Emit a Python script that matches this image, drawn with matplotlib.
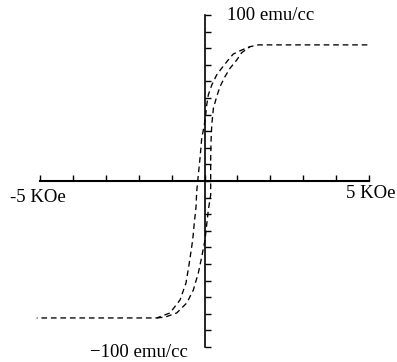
import matplotlib
matplotlib.use("Agg")
import matplotlib.pyplot as plt
import numpy as np

# Descending branch (from +saturation to -saturation), field in KOe, magnetization in emu/cc
desc_H = [4.95, 1.64, 1.38, 1.13, 0.875, 0.72, 0.52, 0.37, 0.22, 0.115, 0.067, 0.036, -0.006,
          -0.085, -0.137, -0.188, -0.237, -0.258, -0.31, -0.359, -0.462, -0.562, -0.745,
          -1.049, -1.45, -5.1]
desc_M = [82.0, 82.0, 80.9, 78.9, 76.5, 72.9, 67.9, 63.9, 57.8, 51.8, 45.8, 39.8, 33.7,
          25.7, 13.7, 3.6, -6.4, -15.7, -25.3, -35.5, -49.4, -61.4, -71.7,
          -79.5, -82.5, -82.5]

# Ascending branch (from -saturation back to +saturation)
asc_H = [-1.45, -1.2, -0.845, -0.54, -0.34, -0.188, -0.085, 0.015, 0.116, 0.188, 0.188,
         0.188, 0.198, 0.22, 0.27, 0.37, 0.47, 0.62, 0.775, 0.98, 1.13, 1.38]
asc_M = [-82.5, -82.0, -79.5, -73.5, -65.7, -55.4, -45.8, -35.5, -17.5, -8.4, 3.6,
         13.7, 23.7, 33.7, 43.8, 50.8, 56.8, 62.8, 67.9, 72.9, 77.3, 80.9]

x_ticks = list(range(-5, 6))
y_ticks = list(range(-100, 101, 10))

x_labels = ["-5 KOe", "5 KOe"]
y_labels = ["100 emu/cc", "\u2212100 emu/cc"]

fig = plt.figure(figsize=(3.97, 3.62), dpi=100)
ax = fig.add_axes([0, 0, 1, 1])
ax.set_xlim(-6.216, 5.851)
ax.set_ylim(-109.04, 109.04)
ax.patch.set_visible(False)

for s in ("top", "right"):
    ax.spines[s].set_visible(False)
ax.spines["left"].set_position(("data", 0))
ax.spines["bottom"].set_position(("data", 0))
ax.spines["left"].set_bounds(-100, 100)
ax.spines["bottom"].set_bounds(-5, 5)
ax.spines["left"].set_linewidth(1.2)
ax.spines["bottom"].set_linewidth(1.5)
ax.set_xticks(x_ticks)
ax.set_yticks(y_ticks)
ax.tick_params(axis="y", direction="in", length=4.5, width=1.0, labelleft=False)
ax.tick_params(axis="x", direction="in", length=4.0, width=1.0, labelbottom=False)

dash = (0, (4.3, 2.9))
ax.plot(desc_H, desc_M, color="black", lw=0.95, linestyle=dash)
ax.plot(asc_H, asc_M, color="black", lw=0.95, linestyle=dash)

fam = ["Liberation Serif", "DejaVu Serif"]
ax.text(0.68, 100, y_labels[0], ha="left", va="center", family=fam, fontsize=13.5)
ax.text(-0.5, -106.3, y_labels[1], ha="right", va="baseline", family=fam, fontsize=13.5)
ax.text(-5.92, -9.8, x_labels[0], ha="left", va="center", family=fam, fontsize=13.5)
ax.text(5.8, -7.5, x_labels[1], ha="right", va="center", family=fam, fontsize=13.5)

fig.savefig("out.png", dpi=100)
